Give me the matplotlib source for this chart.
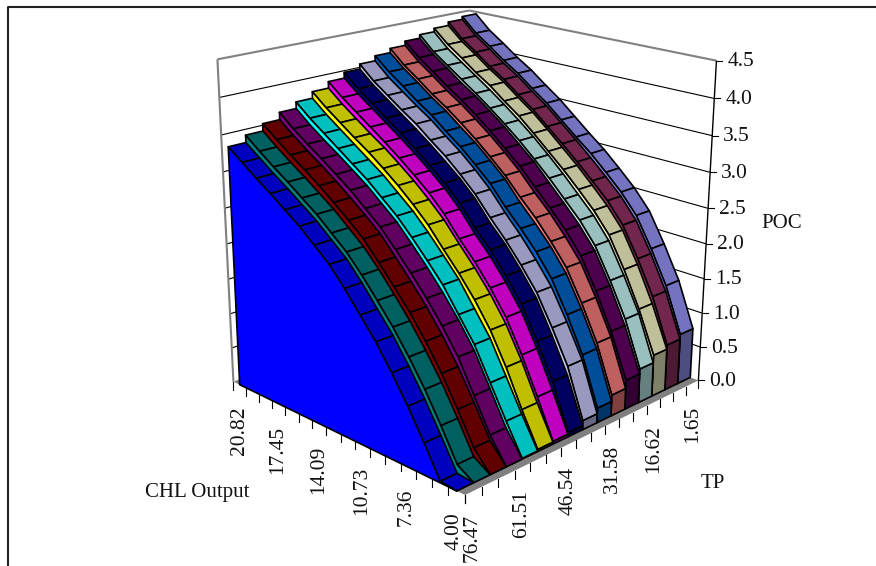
import numpy as np
import matplotlib
matplotlib.use('Agg')
import matplotlib.pyplot as plt
from matplotlib.patches import Polygon

chl_labels = ['20.82', '17.45', '14.09', '10.73', '7.36', '4.00']
tp_labels = ['76.47', '61.51', '46.54', '31.58', '16.62', '1.65']
z_ticks = [0.0, 0.5, 1.0, 1.5, 2.0, 2.5, 3.0, 3.5, 4.0, 4.5]
side_colors = ['#0000FF', '#008080', '#800000', '#800080', '#00FFFF', '#FFFF00', '#FF00FF', '#000080',
               '#CCCCFF', '#0066CC', '#FF8080', '#660066', '#CCFFFF', '#FFFFCC', '#993366', '#9999FF']

# POC, one row per TP value (76.47 -> 1.65), one column per CHL value (20.82 -> 4.00)
poc_00 = [3.37, 3.22, 3.07, 2.93, 2.78, 2.63, 2.45, 2.27, 2.03, 1.76, 1.49, 1.17, 0.82, 0.43, 0.02, 0.00]
poc_01 = [3.47, 3.31, 3.16, 3.02, 2.87, 2.72, 2.54, 2.36, 2.13, 1.87, 1.60, 1.29, 0.95, 0.56, 0.14, 0.00]
poc_02 = [3.57, 3.41, 3.26, 3.12, 2.97, 2.81, 2.64, 2.46, 2.22, 1.97, 1.71, 1.41, 1.07, 0.68, 0.26, 0.00]
poc_03 = [3.67, 3.50, 3.35, 3.21, 3.06, 2.91, 2.73, 2.55, 2.32, 2.08, 1.82, 1.53, 1.20, 0.77, 0.33, 0.00]
poc_04 = [3.76, 3.59, 3.44, 3.29, 3.14, 2.99, 2.81, 2.63, 2.41, 2.17, 1.92, 1.60, 1.28, 0.85, 0.42, 0.01]
poc_05 = [3.85, 3.68, 3.53, 3.38, 3.24, 3.08, 2.91, 2.72, 2.51, 2.25, 2.00, 1.72, 1.39, 0.97, 0.48, 0.03]
poc_06 = [3.94, 3.77, 3.62, 3.47, 3.32, 3.16, 2.99, 2.81, 2.59, 2.32, 2.08, 1.80, 1.48, 1.05, 0.56, 0.04]
poc_07 = [4.02, 3.84, 3.69, 3.54, 3.39, 3.23, 3.06, 2.88, 2.67, 2.40, 2.17, 1.89, 1.58, 1.15, 0.68, 0.06]
poc_08 = [4.09, 3.90, 3.75, 3.60, 3.46, 3.29, 3.13, 2.94, 2.73, 2.47, 2.23, 1.96, 1.66, 1.25, 0.80, 0.13]
poc_09 = [4.16, 3.98, 3.83, 3.67, 3.53, 3.36, 3.20, 3.01, 2.81, 2.55, 2.32, 2.07, 1.77, 1.35, 0.87, 0.21]
poc_10 = [4.22, 4.03, 3.88, 3.72, 3.58, 3.42, 3.25, 3.06, 2.86, 2.62, 2.40, 2.14, 1.85, 1.43, 0.95, 0.30]
poc_11 = [4.28, 4.09, 3.94, 3.78, 3.64, 3.48, 3.31, 3.12, 2.93, 2.70, 2.47, 2.23, 1.94, 1.52, 1.03, 0.42]
poc_12 = [4.33, 4.13, 3.98, 3.83, 3.68, 3.52, 3.35, 3.17, 2.97, 2.76, 2.53, 2.30, 2.01, 1.59, 1.12, 0.49]
poc_13 = [4.38, 4.19, 4.04, 3.88, 3.74, 3.57, 3.41, 3.22, 3.02, 2.82, 2.60, 2.37, 2.09, 1.67, 1.18, 0.60]
poc_14 = [4.43, 4.23, 4.08, 3.92, 3.78, 3.61, 3.45, 3.26, 3.07, 2.87, 2.66, 2.44, 2.16, 1.75, 1.28, 0.66]
poc_15 = [4.47, 4.27, 4.12, 3.96, 3.82, 3.65, 3.49, 3.30, 3.11, 2.93, 2.72, 2.50, 2.23, 1.82, 1.36, 0.73]
poc = [poc_00, poc_01, poc_02, poc_03, poc_04, poc_05, poc_06, poc_07,
       poc_08, poc_09, poc_10, poc_11, poc_12, poc_13, poc_14, poc_15]

plt.rcParams['font.family'] = 'Liberation Serif'

W, H = 876, 566
fig = plt.figure(figsize=(W/100, H/100), dpi=100)
ax = fig.add_axes([0, 0, 1, 1])
ax.set_xlim(0, W)
ax.set_ylim(H, 0)
ax.axis('off')

# camera: unit box corners (a towards back-left, b towards right, c up) -> pixels
box = [(0, 0, 0, 466, 495), (1, 0, 0, 233, 381), (0, 1, 0, 698, 381),
       (1, 0, 1, 217, 60), (0, 1, 1, 716, 60), (1, 1, 1, 470, 10.5)]
A = []
for a, b, c, x, y in box:
    A.append([a, b, c, 1, 0, 0, 0, 0, -x*a, -x*b, -x*c, -x])
    A.append([0, 0, 0, 0, a, b, c, 1, -y*a, -y*b, -y*c, -y])
P = np.linalg.svd(np.array(A, float))[2][-1].reshape(3, 4)

def proj(a, b, c):
    q = P @ np.array([a, b, c, 1.0])
    return q[0]/q[2], q[1]/q[2]

def zc(v):
    return v/4.5

def shade(col, f):
    r = matplotlib.colors.to_rgb(col)
    return tuple(f*i for i in r)

def face(pts, fc, lw=1.2, zo=3):
    ax.add_patch(Polygon([proj(*p) for p in pts], closed=True, fc=fc, ec='black', lw=lw, joinstyle='round', zorder=zo))

def line(p, q, col='black', lw=0.8, zo=2):
    x0, y0 = proj(*p)
    x1, y1 = proj(*q)
    ax.plot([x0, x1], [y0, y1], color=col, lw=lw, zorder=zo, solid_capstyle='butt')

# back walls and their grid
gray = '#808080'
for v in z_ticks[1:-1]:
    line((1, 0, zc(v)), (1, 1, zc(v)))
    line((1, 1, zc(v)), (0, 1, zc(v)))
line((1, 0, 0), (1, 0, 1), gray, 1.5)
line((1, 0, 1), (1, 1, 1), gray, 1.5)
line((1, 1, 1), (0, 1, 1), gray, 1.5)

# floor
ax.add_patch(Polygon([proj(0, 0, 0), proj(0, 1, 0), proj(1, 1, 0), proj(1, 0, 0)], closed=True, fc=gray, ec='none', zorder=2))

# ribbons from the far (right) one to the near (left) one
nk = 16
nr = 16
for r in range(nr - 1, -1, -1):
    b0 = r/nr
    b1 = (r + 1)/nr
    t = [1 - (k + 0.5)/nk for k in range(nk)]
    z = [zc(v) for v in poc[r]]
    col = side_colors[r]
    base = 3 + (nr - r)*3
    # end cap at the front
    face([(t[-1], b0, 0), (t[-1], b1, 0), (t[-1], b1, z[-1]), (t[-1], b0, z[-1])], shade(col, 0.5), zo=base)
    # top cells
    for k in range(nk - 1):
        face([(t[k], b0, z[k]), (t[k], b1, z[k]), (t[k+1], b1, z[k+1]), (t[k+1], b0, z[k+1])],
             shade(col, 0.75), zo=base + 1)
    # side wall facing the front left
    pts = [(t[k], b0, z[k]) for k in range(nk)] + [(t[-1], b0, 0), (t[0], b0, 0)]
    face(pts, col, zo=base + 2)

# axis lines and ticks
line((0, 1, 0), (0, 1, 1), 'black', 1.0, 60)
for v in z_ticks:
    x, y = proj(0, 1, zc(v))
    ax.plot([x, x + 6], [y, y], color='black', lw=0.8, zorder=60)
    ax.text(x + 11, y + 1, '%.1f' % v, ha='left', va='center', fontsize=15.5, color='#111111')

for k in range(nk + 1):
    s = k/nk
    x, y = proj(1 - s, 0, 0)
    ax.plot([x, x], [y, y + 8], color='black', lw=0.8, zorder=60)
    x, y = proj(0, s, 0)
    ax.plot([x, x], [y, y + 8], color='black', lw=0.8, zorder=60)
for i, lab in enumerate(chl_labels):
    x, y = proj(1 - i*3/nk, 0, 0)
    ax.text(x + 6, y + 25, lab, rotation=90, ha='center', va='top', fontsize=15.5, color='#111111')
for i, lab in enumerate(tp_labels):
    x, y = proj(0, i*3/nk, 0)
    ax.text(x + 7, y + 19, lab, rotation=90, ha='center', va='top', fontsize=15.5, color='#111111')

ax.text(145, 493, 'CHL Output', ha='left', va='center', fontsize=15, color='#111111')
ax.text(701, 483, 'TP', ha='left', va='center', fontsize=15, color='#111111')
ax.text(761, 223, 'POC', ha='left', va='center', fontsize=15, color='#111111')

# chart frame, top and left only
ax.plot([8, 8, W], [H, 6.5, 6.5], color='#222222', lw=1.5, zorder=70)

fig.savefig('out.png', dpi=100)
